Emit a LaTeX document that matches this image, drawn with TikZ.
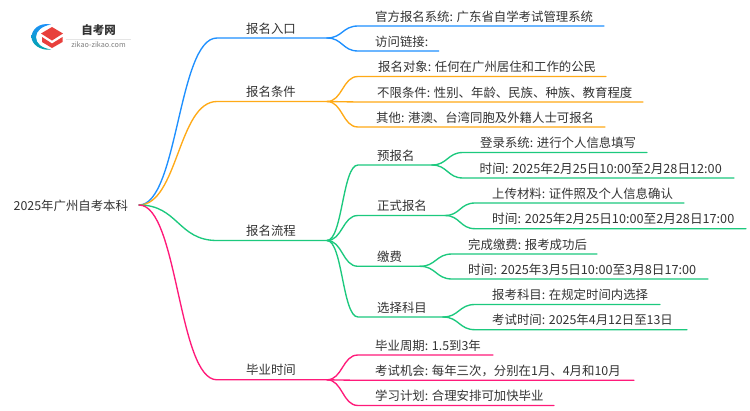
\documentclass[tikz,border=0pt]{standalone}
\usepackage{fontspec}
\setmainfont{Noto Sans CJK SC}
\usetikzlibrary{calc}
\definecolor{cblue}{HTML}{1E90FF}
\definecolor{corange}{HTML}{FFAA17}
\definecolor{cgreen}{HTML}{1CC97E}
\definecolor{cpink}{HTML}{FF1A7A}
\definecolor{ctext}{HTML}{333333}
\definecolor{chat}{HTML}{E8403C}
\tikzset{
  lbl/.style={anchor=base west,inner sep=0pt,text=ctext,font=\fontsize{12.4pt}{14pt}\selectfont},
  lblwide/.style={lbl,font=\fontsize{12.66pt}{14pt}\selectfont},
  link/.style={line width=1.35pt,line cap=round},
}
% \Link{from}{to}{end}{colour}: S-curve from junction to the flat start, then a straight run
\newcommand{\Link}[4]{\draw[link,#4] (#1) .. controls ($(#1)!0.5!(#1 -| #2)$) and ($(#2)!0.5!(#2 -| #1)$) .. (#2) -- (#3);}
\begin{document}
\begin{tikzpicture}[x=1pt,y=-1pt]
\useasboundingbox (0,0) rectangle (750,410);
\fill[white] (0,0) rectangle (750,410);
% logo
\shade[top color=cblue,bottom color=teal!70!cyan] (51,24.5) .. controls (39,22) and (31.5,30) .. (31.5,37) .. controls (31.5,44) and (40,51) .. (51,49.5) .. controls (42,48) and (36,44) .. (36,37) .. controls (36,31) and (42,26) .. cycle;
\fill[chat] (52,27) -- (63,33.5) -- (52,40.5) -- (41,33.5) -- cycle;
\fill[chat] (42,37) -- (52,43.5) -- (62.5,37) -- (62.5,42) -- (52,48) -- (42,42) -- cycle;
\node[inner sep=0pt,text=ctext,font=\bfseries\fontsize{11.5pt}{13pt}\selectfont] (logotitle) at (98.5,30.5) {自考网};
\node[inner sep=0pt,text=black!50,font=\fontsize{7.2pt}{9pt}\selectfont] (logosub) at (98.5,45) {zikao-zikao.com};
\fill[black!10] (66,38.7) rectangle (131,39.3);
% root
\node[lbl] (root) at (13.5,210) {2025年广州自考本科};
\coordinate (r) at (139,205);
% level 1
\coordinate (a) at (217,38);   \coordinate (ae) at (327,38);
\coordinate (b) at (217,101.5);\coordinate (be) at (327,101.5);
\coordinate (c) at (217,240.5);\coordinate (ce) at (327,240.5);
\coordinate (d) at (217,379.8);\coordinate (de) at (327,379.8);
\Link{r}{a}{ae}{cblue}
\Link{r}{b}{be}{corange}
\Link{r}{c}{ce}{cgreen}
\Link{r}{d}{de}{cpink}
\node[lbl] (ta) at (246,33) {报名入口};
\node[lbl] (tb) at (246,96.5) {报名条件};
\node[lbl] (tc) at (246,235.5) {报名流程};
\node[lbl] (td) at (246,374.5) {毕业时间};
% leaves of a
\coordinate (a1) at (358,26);\coordinate (a1e) at (604,26);
\coordinate (a2) at (358,51);\coordinate (a2e) at (438.7,51);
\Link{ae}{a1}{a1e}{cblue}
\Link{ae}{a2}{a2e}{cblue}
\node[lbl] (ta1) at (375,21) {官方报名系统: 广东省自学考试管理系统};
\node[lbl] (ta2) at (375,46) {访问链接:};
% leaves of b
\coordinate (b1) at (358,76.5);\coordinate (b1e) at (606,76.5);
\coordinate (b2) at (358,102);\coordinate (b2e) at (643,102);
\coordinate (b3) at (358,127);\coordinate (b3e) at (605,127);
\Link{be}{b1}{b1e}{corange}
\Link{be}{b2}{b2e}{corange}
\Link{be}{b3}{b3e}{corange}
\node[lbl] (tb1) at (378,71.5) {报名对象: 任何在广州居住和工作的公民};
\node[lbl] (tb2) at (377,97) {不限条件: 性别、年龄、民族、种族、教育程度};
\node[lbl] (tb3) at (376,122) {其他: 港澳、台湾同胞及外籍人士可报名};
% level 2 of c
\coordinate (c1) at (358,165);\coordinate (c1e) at (432,165);
\coordinate (c2) at (358,215.5);\coordinate (c2e) at (445,215.5);
\coordinate (c3) at (358,266.3);\coordinate (c3e) at (420,266.3);
\coordinate (c4) at (358,317);\coordinate (c4e) at (443,317);
\Link{ce}{c1}{c1e}{cgreen}
\Link{ce}{c2}{c2e}{cgreen}
\Link{ce}{c3}{c3e}{cgreen}
\Link{ce}{c4}{c4e}{cgreen}
\node[lbl] (tc1) at (377,160) {预报名};
\node[lbl] (tc2) at (377,210.5) {正式报名};
\node[lbl] (tc3) at (377,261.3) {缴费};
\node[lbl] (tc4) at (377,312) {选择科目};
% level 3
\coordinate (c11) at (463,152.5);\coordinate (c11e) at (647,152.5);
\coordinate (c12) at (463,178);\coordinate (c12e) at (734,178);
\Link{c1e}{c11}{c11e}{cgreen}
\Link{c1e}{c12}{c12e}{cgreen}
\node[lbl] (tc11) at (480,147.5) {登录系统: 进行个人信息填写};
\node[lblwide] (tc12) at (479.5,173) {时间: 2025年2月25日10:00至2月28日12:00};
\coordinate (c21) at (475,203);\coordinate (c21e) at (684,203);
\coordinate (c22) at (475,228.7);\coordinate (c22e) at (746,228.7);
\Link{c2e}{c21}{c21e}{cgreen}
\Link{c2e}{c22}{c22e}{cgreen}
\node[lbl] (tc21) at (492,198) {上传材料: 证件照及个人信息确认};
\node[lblwide] (tc22) at (492,223.7) {时间: 2025年2月25日10:00至2月28日17:00};
\coordinate (c31) at (452,254);\coordinate (c31e) at (597,254);
\coordinate (c32) at (452,279);\coordinate (c32e) at (708,279);
\Link{c3e}{c31}{c31e}{cgreen}
\Link{c3e}{c32}{c32e}{cgreen}
\node[lbl] (tc31) at (468,249) {完成缴费: 报考成功后};
\node[lblwide] (tc32) at (468,274) {时间: 2025年3月5日10:00至3月8日17:00};
\coordinate (c41) at (475,304.5);\coordinate (c41e) at (660,304.5);
\coordinate (c42) at (475,329.7);\coordinate (c42e) at (687,329.7);
\Link{c4e}{c41}{c41e}{cgreen}
\Link{c4e}{c42}{c42e}{cgreen}
\node[lbl] (tc41) at (492,299.5) {报考科目: 在规定时间内选择};
\node[lbl] (tc42) at (492,324.7) {考试时间: 2025年4月12日至13日};
% leaves of d
\coordinate (d1) at (358,355);\coordinate (d1e) at (493,355);
\coordinate (d2) at (358,380.3);\coordinate (d2e) at (634,380.3);
\coordinate (d3) at (358,405.5);\coordinate (d3e) at (554,405.5);
\Link{de}{d1}{d1e}{cpink}
\Link{de}{d2}{d2e}{cpink}
\Link{de}{d3}{d3e}{cpink}
\node[lbl] (td1) at (375,350) {毕业周期: 1.5到3年};
\node[lbl] (td2) at (375,375.3) {考试机会: 每年三次，分别在1月、4月和10月};
\node[lbl] (td3) at (375,400.5) {学习计划: 合理安排可加快毕业};
\end{tikzpicture}
\end{document}
